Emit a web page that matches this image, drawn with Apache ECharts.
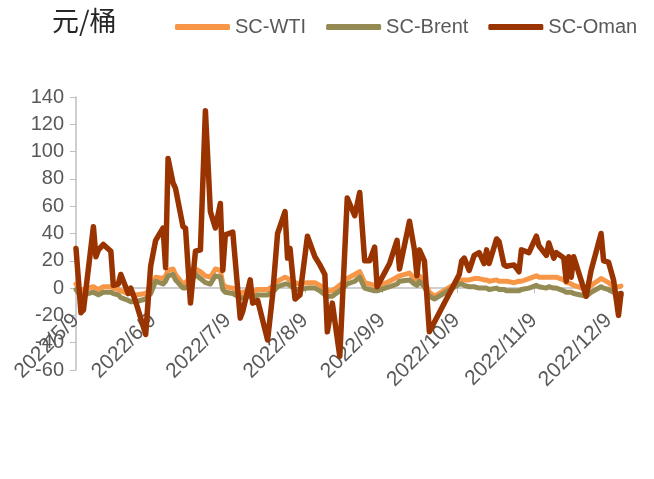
<!DOCTYPE html>
<html>
<head>
<meta charset="utf-8">
<script src="https://cdn.jsdelivr.net/npm/echarts@6/dist/echarts.min.js"></script>
<style>
html,body{margin:0;padding:0;background:#fff;}
#chart{width:654px;height:479px;}
</style>
</head>
<body>
<div id="chart"></div>
<script>
var dates = [
'2022-05-09','2022-05-11','2022-05-12','2022-05-16','2022-05-17','2022-05-18','2022-05-20','2022-05-23','2022-05-24','2022-05-26',
'2022-05-27','2022-05-30','2022-05-31','2022-06-02','2022-06-06','2022-06-08','2022-06-10','2022-06-13','2022-06-14','2022-06-15',
'2022-06-17','2022-06-18','2022-06-21','2022-06-22','2022-06-24','2022-06-26','2022-06-28','2022-06-30','2022-07-02','2022-07-04',
'2022-07-06','2022-07-07','2022-07-08','2022-07-11','2022-07-14','2022-07-15','2022-07-18','2022-07-19','2022-07-21','2022-07-25',
'2022-07-27','2022-07-29','2022-08-01','2022-08-02','2022-08-03','2022-08-05','2022-08-07','2022-08-10','2022-08-13','2022-08-15',
'2022-08-17','2022-08-18','2022-08-20','2022-08-23','2022-08-26','2022-08-29','2022-08-31','2022-09-02','2022-09-04','2022-09-06',
'2022-09-07','2022-09-12','2022-09-15','2022-09-16','2022-09-20','2022-09-22','2022-09-23','2022-09-24','2022-09-26','2022-09-28',
'2022-09-30','2022-10-10','2022-10-11','2022-10-12','2022-10-14','2022-10-16','2022-10-18','2022-10-20','2022-10-21','2022-10-22',
'2022-10-25','2022-10-26','2022-10-28','2022-10-29','2022-11-01','2022-11-03','2022-11-04','2022-11-07','2022-11-10','2022-11-11',
'2022-11-14','2022-11-15','2022-11-17','2022-11-18','2022-11-21','2022-11-22','2022-11-23','2022-11-24','2022-11-25','2022-11-30',
'2022-12-02','2022-12-06','2022-12-07','2022-12-09','2022-12-11','2022-12-13','2022-12-14'
];
var scWTI = [
3,-2,-1,1,0,-1,1,1,0,-1,
-2,-4,-4,-5,-4,0,8,7,9,13,
14,10,3,4,8,14,12,9,8,14,
13,3,1,0,-4,-3,-2,-3,-1,-1,
1,5,8,7,6,4,3,4,4,2,
-1,-2,-2,2,7,10,12,4,3,2,
1,5,8,9,11,7,6,9,5,-3,
-6,5,6,6,6,7,7,6,6,5,
6,5,5,5,4,5,5,7,9,8,
8,8,8,8,6,4,4,3,2,-1,
2,7,6,4,1,1,1.5
];
var scBrent = [
-1,-6,-5,-3,-4,-5,-3,-3,-4,-5,
-7,-9,-10,-10,-8,-4,5,3,5,9,
10,6,0,0,4,10,7,4,3,9,
8,-1,-3,-4,-7,-7,-6,-7,-5,-5,
-3,1,3,3,2,-1,-1,0,0,-2,
-5,-6,-6,-2,3,5,8,0,-1,-2,
-2,1,3,5,6,3,2,5,1,-6,
-8,3,3,2,1,1,0,0,0,-1,
0,-1,-1,-2,-2,-2,-1,0,2,1,
0,1,0,0,-2,-3,-3,-3,-4,-6,
-3,1,0,-1,-3,-4,-5
];
var scOman = [
29,-18,-16,45,23,28,32,27,2,3,
10,-4,0,-10,-34,16,35,44,15,95,
77,73,45,44,-11,27,28,130,56,44,
62,13,39,41,-22,-17,6,-11,-9,-38,
-5,40,56,22,29,-8,-5,38,23,17,
10,-32,-11,-50,66,53,70,20,20,30,
1,18,35,14,49,28,9,28,20,-32,
null,10,20,22,13,24,26,18,28,18,
36,34,17,16,17,12,28,26,38,31,
24,33,22,26,22,5,23,8,23,-6,
13,40,20,19,6,-20,-4
];
var xTickLabels = ['2022/5/9','2022/6/9','2022/7/9','2022/8/9','2022/9/9','2022/10/9','2022/11/9','2022/12/9'];
var yMin = -60, yMax = 140, yStep = 20;
var seriesNames = ['SC-WTI','SC-Brent','SC-Oman'];
var seriesColors = ['#F79646','#948A54','#993300'];

function toTs(str){
  var p = str.split(/[\/-]/);
  return Date.UTC(+p[0], +p[1]-1, +p[2]);
}
var tickTs = xTickLabels.map(toTs);
var labelMap = {};
tickTs.forEach(function(t,i){ labelMap[t] = xTickLabels[i]; });
var dateTs = dates.map(toTs);

function pair(vals){ return dateTs.map(function(t,i){ return [t, vals[i]]; }); }

var GRID_TOP = 97, GRID_BOTTOM = 109, CH = 479;
var plotH = CH - GRID_TOP - GRID_BOTTOM;
var zeroOffset = -plotH * (0 - yMin) / (yMax - yMin);

var FONT = 'Liberation Sans, Arial, sans-serif';
var chart = echarts.init(document.getElementById('chart'), null, {renderer:'canvas'});
chart.setOption({
  animation:false,
  backgroundColor:'#ffffff',
  title:{
    text:'元/桶', left:47, top:2,
    textStyle:{fontSize:27, fontWeight:'normal', color:'#262626', fontFamily:'Noto Sans CJK SC'}
  },
  legend:{
    data:seriesNames, left:175, top:17, padding:0, icon:'roundRect', itemWidth:55, itemHeight:6, itemGap:20,
    textStyle:{fontSize:20, color:'#595959', fontFamily:FONT}
  },
  grid:{left:76, right:33, top:GRID_TOP, bottom:GRID_BOTTOM, containLabel:false, outerBoundsMode:'none'},
  xAxis:{
    type:'value',
    min:dateTs[0], max:dateTs[dateTs.length-1],
    offset:zeroOffset,
    axisLine:{onZero:false, lineStyle:{color:'#BFBFBF', width:1.5}},
    axisTick:{show:true, customValues:tickTs, length:5, lineStyle:{color:'#BFBFBF'}},
    axisLabel:{
      customValues:tickTs, rotate:45, margin:29, fontSize:21, color:'#595959', fontFamily:FONT,
      formatter:function(v){ return labelMap[v] || ''; }
    },
    splitLine:{show:false}
  },
  yAxis:{
    type:'value', min:yMin, max:yMax, interval:yStep,
    axisLine:{show:true, onZero:false, lineStyle:{color:'#BFBFBF', width:1.5}},
    axisTick:{show:true, length:6, lineStyle:{color:'#BFBFBF'}},
    axisLabel:{fontSize:20, color:'#595959', fontFamily:FONT, margin:12},
    splitLine:{show:false}
  },
  series:[
    {name:seriesNames[0], type:'line', data:pair(scWTI), symbol:'none', connectNulls:true,
     color:seriesColors[0], lineStyle:{width:5, color:seriesColors[0], join:'round', cap:'round'}},
    {name:seriesNames[1], type:'line', data:pair(scBrent), symbol:'none', connectNulls:true,
     color:seriesColors[1], lineStyle:{width:5, color:seriesColors[1], join:'round', cap:'round'}},
    {name:seriesNames[2], type:'line', data:pair(scOman), symbol:'none', connectNulls:true,
     color:seriesColors[2], lineStyle:{width:5.5, color:seriesColors[2], join:'round', cap:'round'}}
  ]
});
</script>
</body>
</html>
